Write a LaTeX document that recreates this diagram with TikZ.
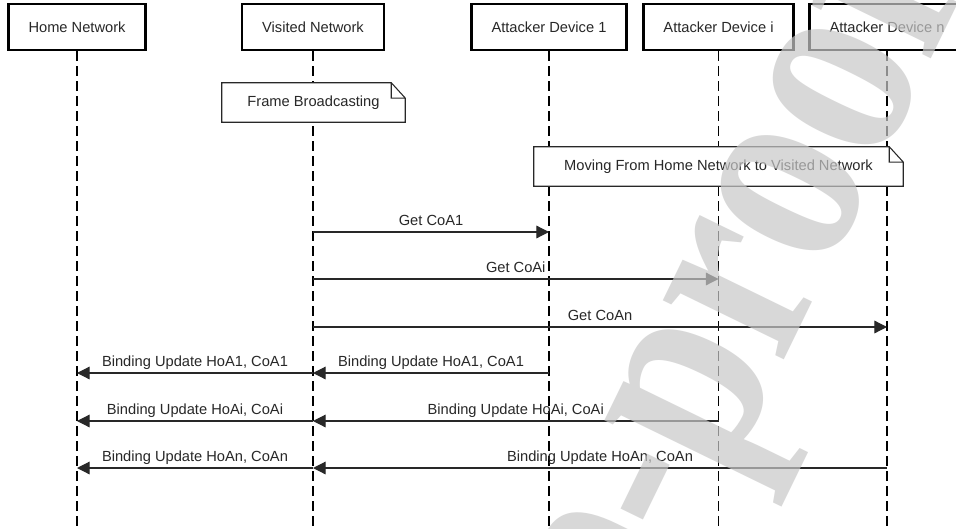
\documentclass[tikz,border=0pt]{standalone}
\usepackage{fontspec}
\setmainfont{Liberation Sans}
\newfontfamily\stampfont{Liberation Serif}
\usetikzlibrary{arrows.meta}

\definecolor{inkgray}{RGB}{40,40,40}
\definecolor{stampgray}{RGB}{200,200,200}

\begin{document}
\begin{tikzpicture}
[
x=0.75pt, y=-0.75pt,
every node/.style={font=\fontsize{11}{13}\selectfont, text=inkgray},
actor/.style={draw=black, line width=1.6pt, fill=white, inner xsep=15pt, minimum height=34.5pt},
lifeline/.style={draw=black, line width=0.9pt, dash pattern=on 7.5pt off 3.75pt},
notebox/.style={fill=white, minimum height=29.25pt, inner sep=0pt},
msg/.style={draw=inkgray, line width=0.9pt, -{Triangle[length=9.5pt, width=9.5pt]}},
lbl/.style={above=4.5pt, inner sep=0pt, text depth=0pt}
]

% frame
\useasboundingbox (0,0) rectangle (956,528);
\clip (0,0) rectangle (956,528);
\fill[white] (0,0) rectangle (956,528);

% participants
\coordinate (bottom) at (0,528);
\node[actor] (home) at (77,27) {Home Network};
\node[actor] (visited) at (313,27) {Visited Network};
\node[actor] (dev1) at (549,27) {Attacker Device 1};
\node[actor] (devi) at (718.5,27) {Attacker Device i};
\node[actor] (devn) at (887,27) {Attacker Device n};
\foreach \p in {home,visited,dev1,devi,devn}
	\draw[lifeline] (\p.south) -- (\p.south |- bottom);

% notes
\node[notebox, minimum width=137.25pt] (bcast) at (313.5,102.5) {Frame Broadcasting};
\node[notebox, minimum width=276.75pt] (moving) at (718.5,166.5) {Moving From Home Network to Visited Network};
\foreach \n in {bcast,moving}
	\draw[draw=inkgray, line width=0.8pt] (\n.south west) -- (\n.north west) -- ([xshift=-10.5pt]\n.north east)
		-- ([yshift=-11.5pt]\n.north east) -- (\n.south east) -- cycle
		([xshift=-10.5pt]\n.north east) -- ([xshift=-10.5pt,yshift=-11.5pt]\n.north east) -- ([yshift=-11.5pt]\n.north east);

% messages
\foreach \r/\y in {r1/232, r2/279, r3/327, r4/373, r5/421, r6/468}
	\coordinate (\r) at (0,\y);
\draw[msg] (visited |- r1) -- node[lbl] {Get CoA1} (dev1 |- r1);
\draw[msg] (visited |- r2) -- node[lbl] {Get CoAi} (devi |- r2);
\draw[msg] (visited |- r3) -- node[lbl] {Get CoAn} (devn |- r3);
\draw[msg] (dev1 |- r4) -- node[lbl] {Binding Update HoA1, CoA1} (visited |- r4);
\draw[msg] (visited |- r4) -- node[lbl] {Binding Update HoA1, CoA1} (home |- r4);
\draw[msg] (devi |- r5) -- node[lbl] {Binding Update HoAi, CoAi} (visited |- r5);
\draw[msg] (visited |- r5) -- node[lbl] {Binding Update HoAi, CoAi} (home |- r5);
\draw[msg] (devn |- r6) -- node[lbl] {Binding Update HoAn, CoAn} (visited |- r6);
\draw[msg] (visited |- r6) -- node[lbl] {Binding Update HoAn, CoAn} (home |- r6);

% watermark
\node[text=stampgray, text opacity=0.7, rotate=64, anchor=base east, inner sep=0pt,
	font=\stampfont\bfseries\fontsize{220}{220}\selectfont] (stamp) at (963,-6) {\scalebox{0.8}[1]{Journal Pre-proof}};
\end{tikzpicture}
\end{document}
